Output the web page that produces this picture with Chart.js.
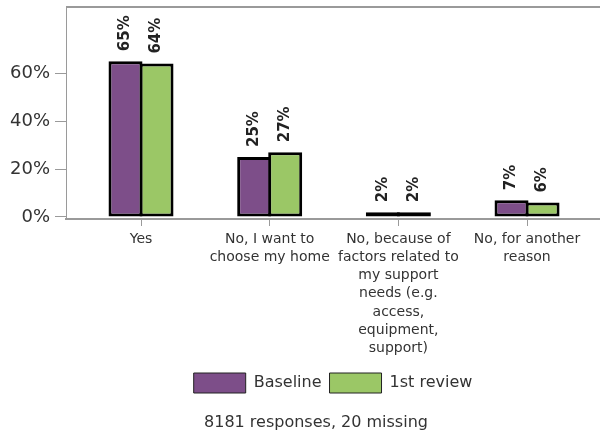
<!DOCTYPE html>
<html>
<head>
<meta charset="utf-8">
<script src="https://cdn.jsdelivr.net/npm/chart.js@4"></script>
<style>
  html, body { margin: 0; padding: 0; background: #fff; }
  #wrap { width: 600px; height: 439px; }
</style>
</head>
<body>
<div id="wrap"><canvas id="chart" width="600" height="439"></canvas></div>
<script>
const categories = [
  'Yes',
  ['No, I want to', 'choose my home'],
  ['No, because of', 'factors related to', 'my support', 'needs (e.g.', 'access,', 'equipment,', 'support)'],
  ['No, for another', 'reason'],
];
const baseline = [65, 25, 2, 7];
const firstReview = [64, 27, 2, 6];
const yTicks = [0, 20, 40, 60];
const caption = '8181 responses, 20 missing';

const textColor = '#333';
const axisColor = '#9a9a9a';
const font = 'DejaVu Sans';

// grey frame line along the top of the plot
const topLine = {
  id: 'topLine',
  afterDraw(chart) {
    const { ctx, chartArea } = chart;
    ctx.save();
    ctx.strokeStyle = axisColor;
    ctx.lineWidth = 2;
    ctx.beginPath();
    ctx.moveTo(chartArea.left, chartArea.top);
    ctx.lineTo(chartArea.right, chartArea.top);
    ctx.stroke();
    ctx.restore();
  },
};

// rotated percentage above every bar
const barLabels = {
  id: 'barLabels',
  afterDatasetsDraw(chart) {
    const ctx = chart.ctx;
    ctx.save();
    ctx.fillStyle = '#222';
    ctx.font = `bold 15px "${font}"`;
    ctx.textAlign = 'left';
    ctx.textBaseline = 'middle';
    chart.data.datasets.forEach((ds, i) => {
      chart.getDatasetMeta(i).data.forEach((bar, j) => {
        ctx.save();
        ctx.translate(bar.x, bar.y - 10);
        ctx.rotate(-Math.PI / 2);
        ctx.fillText(`${ds.data[j].y}%`, 0, 0);
        ctx.restore();
      });
    });
    ctx.restore();
  },
};

const footNote = {
  id: 'footNote',
  afterDraw(chart) {
    const ctx = chart.ctx;
    ctx.save();
    ctx.fillStyle = textColor;
    ctx.font = `16px "${font}"`;
    ctx.textAlign = 'center';
    ctx.textBaseline = 'alphabetic';
    ctx.fillText(caption, 316, 427);
    ctx.restore();
  },
};

const toPoints = (vals) => vals.map((v, i) => ({ x: i, y: v }));

new Chart(document.getElementById('chart'), {
  type: 'bar',
  data: {
    datasets: [
      {
        label: 'Baseline',
        data: toPoints(baseline),
        backgroundColor: '#7d4e89',
        borderColor: '#000',
        borderWidth: 3,
        borderSkipped: false,
      },
      {
        label: '1st review',
        data: toPoints(firstReview),
        backgroundColor: '#9bc766',
        borderColor: '#000',
        borderWidth: 3,
        borderSkipped: false,
      },
    ],
  },
  options: {
    responsive: false,
    animation: false,
    categoryPercentage: 0.482,
    barPercentage: 1.097,
    layout: { padding: { top: 7, left: 0, right: 0, bottom: 36 } },
    scales: {
      x: {
        type: 'linear',
        min: -0.583,
        max: 3.567,
        offset: false,
        afterBuildTicks: (s) => { s.ticks = categories.map((c, i) => ({ value: i })); },
        afterFit: (s) => { s.height = 146; s.paddingLeft = 0; s.paddingRight = 0; },
        ticks: {
          autoSkip: false,
          maxRotation: 0,
          padding: 4,
          color: textColor,
          font: { family: font, size: 14, lineHeight: 1.3 },
          callback: (v) => categories[v],
        },
        grid: { offset: false, drawOnChartArea: false, tickLength: 7, color: axisColor },
        border: { color: axisColor, width: 2 },
      },
      y: {
        min: -0.84,
        max: 87.6,
        afterBuildTicks: (s) => { s.ticks = yTicks.map((v) => ({ value: v })); },
        afterFit: (s) => { s.width = 66; s.paddingTop = 0; s.paddingBottom = 0; },
        ticks: {
          padding: 5,
          color: textColor,
          font: { family: font, size: 18 },
          callback: (v) => `${v}%`,
        },
        grid: { drawOnChartArea: false, tickLength: 11, color: axisColor },
        border: { color: axisColor, width: 1 },
      },
    },
    plugins: {
      legend: {
        position: 'bottom',
        fullSize: false,
        labels: {
          boxWidth: 52,
          boxHeight: 20,
          padding: 8,
          color: textColor,
          font: { family: font, size: 16 },
          generateLabels: (chart) => Chart.defaults.plugins.legend.labels.generateLabels(chart)
            .map((item) => ({ ...item, lineWidth: 1, strokeStyle: '#222' })),
        },
      },
      tooltip: { enabled: false },
    },
  },
  plugins: [topLine, barLabels, footNote],
});
</script>
</body>
</html>
